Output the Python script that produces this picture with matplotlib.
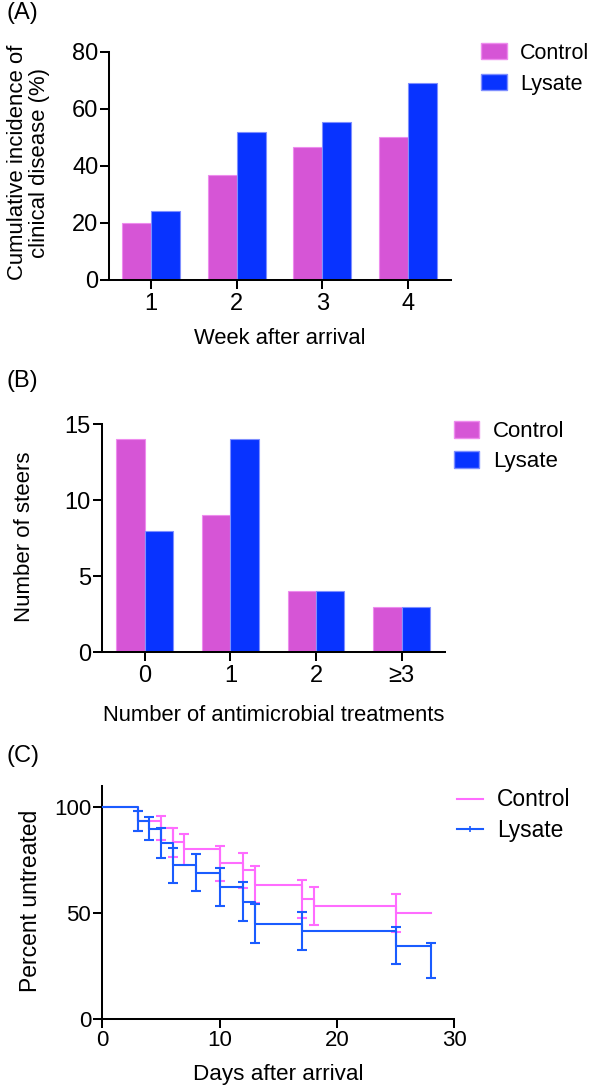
import matplotlib
matplotlib.use("Agg")
import matplotlib.pyplot as plt
from matplotlib.patches import Patch
from matplotlib.lines import Line2D

plt.rcParams['font.family'] = ['Liberation Sans', 'DejaVu Sans']

# ---------------- data ----------------
series_names = ["Control", "Lysate"]

# Panel A
weeks = ["1", "2", "3", "4"]
incidence_control = [20.0, 36.7, 46.7, 50.0]
incidence_lysate = [24.1, 51.7, 55.2, 69.0]

# Panel B
treat_cats = ["0", "1", "2", "\u22653"]
steers_control = [14, 9, 4, 3]
steers_lysate = [8, 14, 4, 3]

# Panel C (Kaplan-Meier, percent untreated)
days_control = [0, 3, 5, 6, 7, 10, 12, 13, 17, 18, 25, 28]
surv_control = [100, 93.3, 90.0, 83.3, 80.0, 73.3, 70.0, 63.3, 56.7, 53.3, 50.0, 50.0]
err_days_control = [3, 5, 6, 7, 10, 12, 13, 17, 18, 25]
err_vals_control = [93.3, 90.0, 83.3, 80.0, 73.3, 70.0, 63.3, 56.7, 53.3, 50.0]
err_lo_control = [4.6, 5.5, 6.8, 7.3, 8.1, 8.4, 8.8, 9.0, 9.1, 9.1]
err_hi_control = [4.6, 5.5, 6.8, 7.3, 8.1, 8.4, 8.8, 9.0, 9.1, 9.1]

days_lysate = [0, 3, 4, 5, 6, 8, 10, 12, 13, 17, 25, 28]
surv_lysate = [100, 93.1, 89.7, 82.8, 72.4, 69.0, 62.1, 55.2, 44.8, 41.4, 34.5, 34.5]
err_days_lysate = [3, 4, 5, 6, 8, 10, 12, 13, 17, 25, 28]
err_vals_lysate = [93.1, 89.7, 82.8, 72.4, 69.0, 62.1, 55.2, 44.8, 41.4, 34.5, 34.5]
err_lo_lysate = [4.7, 5.6, 7.0, 8.3, 8.6, 9.0, 9.2, 9.2, 9.1, 8.8, 15.2]
err_hi_lysate = [4.7, 5.6, 7.0, 8.3, 8.6, 9.0, 9.2, 9.2, 9.1, 8.8, 1.4]

# ---------------- style ----------------
W, H = 592, 1092
BAR_PINK = "#D655D6"
BAR_BLUE = "#0833FF"
EDGE_PINK = "#EE8CEE"
EDGE_BLUE = "#7F8FFF"
LINE_PINK = "#FF6CFF"
LINE_BLUE = "#1A5CFF"
LW_AX = 1.45

fig = plt.figure(figsize=(W / 100, H / 100), dpi=100)


def add_ax(left, right, top, bottom):
    ax = fig.add_axes([left / W, 1 - bottom / H, (right - left) / W, (bottom - top) / H])
    ax._px = (left, right, top, bottom)
    return ax


def style(ax, fs, xpad=3, ypad=1.5):
    for s in ["top", "right"]:
        ax.spines[s].set_visible(False)
    for s in ["left", "bottom"]:
        ax.spines[s].set_linewidth(LW_AX)
    ax.tick_params(direction="out", length=6.5, width=LW_AX, labelsize=fs)
    ax.tick_params(axis="x", pad=xpad)
    ax.tick_params(axis="y", pad=ypad)


def place_xlabel(ax, top_px):
    l, r, t, b = ax._px
    ax.xaxis.set_label_coords(0.5, -(top_px - b) / (b - t))


def place_ylabel(ax, right_px, center_px):
    l, r, t, b = ax._px
    ax.yaxis.set_label_coords((right_px - l) / (r - l), (b - center_px) / (b - t))


# ---------------- Panel A ----------------
axA = add_ax(109.4, 451, 51.7, 280)
xa = range(1, len(weeks) + 1)
bw = 0.338
axA.bar([x - bw / 2 for x in xa], incidence_control, width=bw, color=BAR_PINK,
        edgecolor=EDGE_PINK, linewidth=0.8)
axA.bar([x + bw / 2 for x in xa], incidence_lysate, width=bw, color=BAR_BLUE,
        edgecolor=EDGE_BLUE, linewidth=0.8)
axA.set_xlim(0.515, 4.5)
axA.set_ylim(0, 80)
axA.set_yticks([0, 20, 40, 60, 80])
axA.set_xticks(list(xa))
axA.set_xticklabels(weeks)
style(axA, 17, xpad=2.5)
axA.set_xlabel("Week after arrival", fontsize=15.8)
place_xlabel(axA, 327.6)
axA.set_ylabel("Cumulative incidence of\nclinical disease (%)", fontsize=15.9, linespacing=1.07)
place_ylabel(axA, 50, 162.5)
handlesA = [Patch(facecolor=BAR_PINK, edgecolor=EDGE_PINK), Patch(facecolor=BAR_BLUE, edgecolor=EDGE_BLUE)]
fig.legend(handlesA, series_names, loc="upper left", bbox_to_anchor=(481 / W, 1 - 42.6 / H),
           frameon=False, fontsize=15.5, handlelength=1.21, handleheight=0.79,
           handletextpad=0.6, labelspacing=0.47, borderpad=0, borderaxespad=0)
fig.text(6 / W, 1 - 2 / H, "(A)", fontsize=17, va="top", ha="left")

# ---------------- Panel B ----------------
axB = add_ax(101.9, 444.5, 424, 652.3)
xb = range(len(treat_cats))
bw = 0.33
axB.bar([x - bw / 2 for x in xb], steers_control, width=bw, color=BAR_PINK,
        edgecolor=EDGE_PINK, linewidth=0.8)
axB.bar([x + bw / 2 for x in xb], steers_lysate, width=bw, color=BAR_BLUE,
        edgecolor=EDGE_BLUE, linewidth=0.8)
axB.set_xlim(-0.5, 3.5)
axB.set_ylim(0, 15)
axB.set_yticks([0, 5, 10, 15])
axB.set_xticks(list(xb))
axB.set_xticklabels(treat_cats)
style(axB, 17, xpad=2.5)
axB.set_xlabel("Number of antimicrobial treatments", fontsize=15.8)
place_xlabel(axB, 705)
axB.set_ylabel("Number of steers", fontsize=16)
place_ylabel(axB, 35, 536.7)
fig.legend(handlesA, series_names, loc="upper left", bbox_to_anchor=(454 / W, 1 - 421.2 / H),
           frameon=False, fontsize=16, handlelength=1.13, handleheight=0.75,
           handletextpad=0.61, labelspacing=0.41, borderpad=0, borderaxespad=0)
fig.text(6 / W, 1 - 370 / H, "(B)", fontsize=17, va="top", ha="left")

# ---------------- Panel C ----------------
axC = add_ax(102.3, 454.3, 785.5, 1019)
axC.errorbar(err_days_control, err_vals_control, yerr=[err_lo_control, err_hi_control],
             fmt="none", ecolor=LINE_PINK, elinewidth=1.5, capsize=3.8, capthick=1.5, zorder=2)
axC.step(days_control, surv_control, where="post", color=LINE_PINK, lw=1.5, zorder=2)
axC.errorbar(err_days_lysate, err_vals_lysate, yerr=[err_lo_lysate, err_hi_lysate],
             fmt="none", ecolor=LINE_BLUE, elinewidth=1.5, capsize=3.8, capthick=1.5, zorder=3)
axC.step(days_lysate, surv_lysate, where="post", color=LINE_BLUE, lw=1.5, zorder=3)
axC.set_xlim(0, 30)
axC.set_ylim(0, 110)
axC.set_yticks([0, 50, 100])
axC.set_xticks([0, 10, 20, 30])
style(axC, 16, xpad=1.5, ypad=1.5)
axC.set_xlabel("Days after arrival", fontsize=16.2)
place_xlabel(axC, 1064)
axC.set_ylabel("Percent untreated", fontsize=16.5)
place_ylabel(axC, 42, 900.8)
handlesC = [Line2D([0], [0], color=LINE_PINK, lw=1.5),
            Line2D([0], [0], color=LINE_BLUE, lw=1.5, marker="|", markersize=4,
                   markeredgewidth=1.2)]
fig.legend(handlesC, series_names, loc="upper left", bbox_to_anchor=(456.7 / W, 1 - 788.5 / H),
           frameon=False, fontsize=16.4, handlelength=1.17, handletextpad=0.59,
           labelspacing=0.33, borderpad=0, borderaxespad=0)
fig.text(6 / W, 1 - 745 / H, "(C)", fontsize=17, va="top", ha="left")

fig.savefig("out.png", dpi=100)
